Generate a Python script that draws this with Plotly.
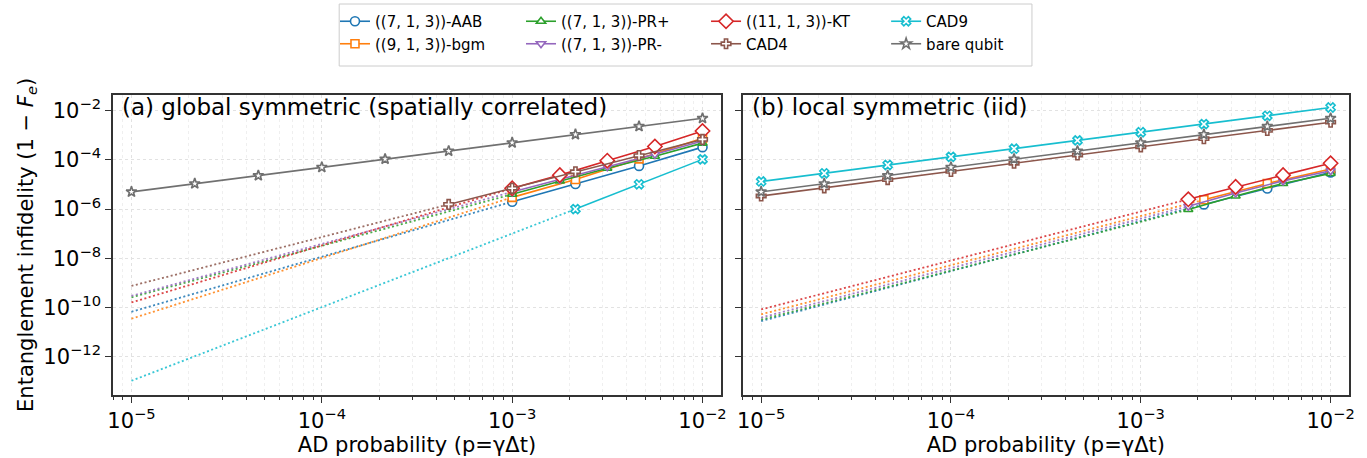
import plotly.graph_objects as go
from plotly.subplots import make_subplots

# --- Data
P_FULL = [1e-5, 2.15e-5, 4.64e-5, 1e-4, 2.15e-4, 4.64e-4, 1e-3, 2.15e-3, 4.64e-3, 1e-2]
P_START = 1e-5  # where the dotted extrapolations begin

# (a) global symmetric
g_ab_p = [1e-3, 2.15e-3, 4.64e-3, 1e-2]
g_aab = [2.0e-6, 1.05e-5, 5.7e-5, 3.3e-4]
g_bgm = [3.0e-6, 1.6e-5, 1.1e-4, 7.5e-4]
g_pr_p = [1e-3, 1.78e-3, 3.16e-3, 5.62e-3, 1e-2]
g_prp = [4.0e-6, 1.4e-5, 4.6e-5, 1.4e-4, 4.8e-4]
g_prm = [5.0e-6, 1.6e-5, 5.3e-5, 1.7e-4, 5.9e-4]
g_kt = [7.0e-6, 2.4e-5, 9.3e-5, 3.5e-4, 1.5e-3]
g_cad4_p = [4.64e-4, 1e-3, 2.15e-3, 4.64e-3, 1e-2]
g_cad4 = [1.55e-6, 7.0e-6, 3.3e-5, 1.5e-4, 6.8e-4]
g_cad9_p = [2.15e-3, 4.64e-3, 1e-2]
g_cad9 = [1.0e-6, 1.02e-5, 1.05e-4]
g_dot_start = {"aab": 6.7e-11, "bgm": 3.5e-11, "prp": 2.6e-10, "prm": 2.95e-10,
               "kt": 1.6e-10, "cad4": 7.5e-10, "cad9": 1.05e-13}

# (b) local symmetric
l_ab_p = [2.15e-3, 4.64e-3, 1e-2]
l_aab = [1.55e-6, 6.9e-6, 3.1e-5]
l_bgm = [2.4e-6, 1.1e-5, 4.3e-5]
l_pr_p = [1.78e-3, 3.16e-3, 5.62e-3, 1e-2]
l_prp = [9.6e-7, 3.4e-6, 1.1e-5, 2.8e-5]
l_prm = [1.3e-6, 4.5e-6, 1.4e-5, 3.6e-5]
l_kt = [2.5e-6, 8.0e-6, 2.4e-5, 7.3e-5]
l_cad4 = [3.4e-6, 7.3e-6, 1.58e-5, 3.4e-5, 7.3e-5, 1.58e-4, 3.4e-4, 7.3e-4, 1.58e-3, 3.4e-3]
l_cad9 = [1.33e-5, 2.85e-5, 6.2e-5, 1.33e-4, 2.85e-4, 6.2e-4, 1.33e-3, 2.85e-3, 6.2e-3, 1.35e-2]
l_dot_start = {"aab": 2.8e-11, "bgm": 5.3e-11, "prp": 3.2e-11, "prm": 3.9e-11, "kt": 8.3e-11}

bare = [5e-6, 1.08e-5, 2.3e-5, 5e-5, 1.08e-4, 2.3e-4, 5e-4, 1.08e-3, 2.3e-3, 4.9e-3]

X_TICKS = [1e-5, 1e-4, 1e-3, 1e-2]
X_TICK_TEXT = ["10<sup>−5</sup>", "10<sup>−4</sup>", "10<sup>−3</sup>", "10<sup>−2</sup>"]
Y_TICKS = [1e-2, 1e-4, 1e-6, 1e-8, 1e-10, 1e-12]
Y_TICK_TEXT = ["10<sup>−2</sup>", "10<sup>−4</sup>", "10<sup>−6</sup>", "10<sup>−8</sup>",
               "10<sup>−10</sup>", "10<sup>−12</sup>"]

# --- Styles
STYLE = {
    "aab": ("((7, 1, 3))-AAB", "#1f77b4", "circle", 9, "legend"),
    "bgm": ("((9, 1, 3))-bgm", "#ff7f0e", "square", 8, "legend"),
    "prp": ("((7, 1, 3))-PR+", "#2ca02c", "triangle-up", 8, "legend2"),
    "prm": ("((7, 1, 3))-PR-", "#9467bd", "triangle-down", 8, "legend2"),
    "kt": ("((11, 1, 3))-KT", "#d62728", "diamond", 11, "legend3"),
    "cad4": ("CAD4", "#8c564b", "cross", 8, "legend3"),
    "cad9": ("CAD9", "#17becf", "x", 8, "legend4"),
    "bare": ("bare qubit", "#707070", "star", 8, "legend4"),
}
FONT = "DejaVu Sans"

# plot area: y from 94.7px to 395px of a 458px page; top margin kept tiny so the
# legends sit inside the paper and don't push the margins around
TOP_M, BOT_M = 2, 63
PAPER_H = 458 - TOP_M - BOT_M
Y_DOM_TOP = 300.3 / PAPER_H


def paper_y(px):
    return (458 - BOT_M - px) / PAPER_H


fig = make_subplots(rows=1, cols=2, shared_yaxes=True)


def add_series(key, p, y, col, show):
    name, color, sym, size, leg = STYLE[key]
    fig.add_trace(go.Scatter(
        x=p, y=y, mode="lines+markers", name=name, legend=leg, showlegend=show,
        line=dict(color=color, width=1.6),
        marker=dict(symbol=sym, size=size, color="white", line=dict(color=color, width=1.6)),
    ), row=1, col=col)


def add_dotted(key, p0, y0, p1, y1, col):
    color = STYLE[key][1]
    fig.add_trace(go.Scatter(
        x=[p0, p1], y=[y0, y1], mode="lines", showlegend=False, hoverinfo="skip",
        line=dict(color=color, width=1.8, dash="2px,2.5px"), opacity=0.85,
    ), row=1, col=col)


# dotted extrapolations first so the markers sit above them
glb = {"aab": (g_ab_p, g_aab), "bgm": (g_ab_p, g_bgm), "prp": (g_pr_p, g_prp),
       "prm": (g_pr_p, g_prm), "kt": (g_pr_p, g_kt), "cad4": (g_cad4_p, g_cad4),
       "cad9": (g_cad9_p, g_cad9)}
loc = {"aab": (l_ab_p, l_aab), "bgm": (l_ab_p, l_bgm), "prp": (l_pr_p, l_prp),
       "prm": (l_pr_p, l_prm), "kt": (l_pr_p, l_kt)}

for k, (p, y) in glb.items():
    add_dotted(k, P_START, g_dot_start[k], p[0], y[0], 1)
for k, (p, y) in loc.items():
    add_dotted(k, P_START, l_dot_start[k], p[0], y[0], 2)

for k, (p, y) in glb.items():
    add_series(k, p, y, 1, True)
add_series("bare", P_FULL, bare, 1, True)

for k, (p, y) in loc.items():
    add_series(k, p, y, 2, False)
add_series("cad4", P_FULL, l_cad4, 2, False)
add_series("cad9", P_FULL, l_cad9, 2, False)
add_series("bare", P_FULL, bare, 2, False)

# --- Axes
minor_x = [m * 10 ** e for e in (-6, -5, -4, -3, -2) for m in range(2, 10)]
xax = dict(
    type="log", range=[-5.097, -1.903], tickvals=X_TICKS, ticktext=X_TICK_TEXT,
    ticks="outside", ticklen=6, tickwidth=1.2, tickcolor="#333",
    showline=True, linecolor="#333", linewidth=1.5, mirror=True,
    showgrid=True, gridcolor="#e2e2e2", griddash="dot", gridwidth=1,
    tickfont=dict(family=FONT, size=21, color="black"), automargin=False,
    title=dict(text="AD probability (p=γΔt)", font=dict(family=FONT, size=21, color="black"), standoff=1),
    minor=dict(tickvals=minor_x, ticks="outside", ticklen=3, tickcolor="#333",
               showgrid=True, gridcolor="#efefef", griddash="dot", gridwidth=1),
    zeroline=False,
)
yax = dict(
    type="log", range=[-13.557, -1.35], tickvals=Y_TICKS, domain=[0, Y_DOM_TOP],
    ticks="outside", ticklen=6, tickwidth=1.2, tickcolor="#333",
    showline=True, linecolor="#333", linewidth=1.5, mirror=True,
    showgrid=True, gridcolor="#e2e2e2", griddash="dot", gridwidth=1,
    tickfont=dict(family=FONT, size=21, color="black"), zeroline=False, automargin=False,
)
fig.update_xaxes(**xax)
fig.update_layout(
    xaxis=dict(domain=[0, 0.4919]),
    xaxis2=dict(domain=[0.5095, 1]),
    yaxis=dict(**yax, ticktext=Y_TICK_TEXT,
               title=dict(text="Entanglement infidelity (1 − <i>F</i><sub><i>e</i></sub>)",
                          font=dict(family=FONT, size=21, color="black"), standoff=4)),
    yaxis2=dict(**yax, showticklabels=False, matches="y"),
)

# --- Panel labels
fig.add_annotation(text="(a) global symmetric (spatially correlated)", x=0.012, y=0.959,
                   xref="x domain", yref="y domain", xanchor="left", yanchor="middle",
                   showarrow=False, font=dict(family=FONT, size=23, color="black"))
fig.add_annotation(text="(b) local symmetric (iid)", x=0.012, y=0.959,
                   xref="x2 domain", yref="y2 domain", xanchor="left", yanchor="middle",
                   showarrow=False, font=dict(family=FONT, size=23, color="black"))

# --- Legend: four columns of two, with a shared frame
leg_common = dict(orientation="v", yanchor="top", y=paper_y(5), xanchor="left",
                  bgcolor="rgba(0,0,0,0)", borderwidth=0, tracegroupgap=2,
                  font=dict(family=FONT, size=15, color="black"), itemwidth=30)
fig.update_layout(
    legend=dict(**leg_common, x=0.1796),
    legend2=dict(**leg_common, x=0.3301),
    legend3=dict(**leg_common, x=0.4798),
    legend4=dict(**leg_common, x=0.6255),
)
fig.add_shape(type="rect", xref="paper", yref="paper", x0=0.183, x1=0.7435,
              y0=paper_y(66), y1=paper_y(4),
              line=dict(color="#cccccc", width=1), fillcolor="rgba(255,255,255,0.8)", layer="below")

fig.update_layout(
    width=1367, height=458,
    margin=dict(l=113, r=18, t=TOP_M, b=BOT_M),
    paper_bgcolor="white", plot_bgcolor="white",
    font=dict(family=FONT, color="black"),
)

# page has a default 8px body margin; drop it so the figure sits at the window origin
fig.write_html("out.html", config={"displayModeBar": False},
               post_script="document.body.style.margin='0';")
